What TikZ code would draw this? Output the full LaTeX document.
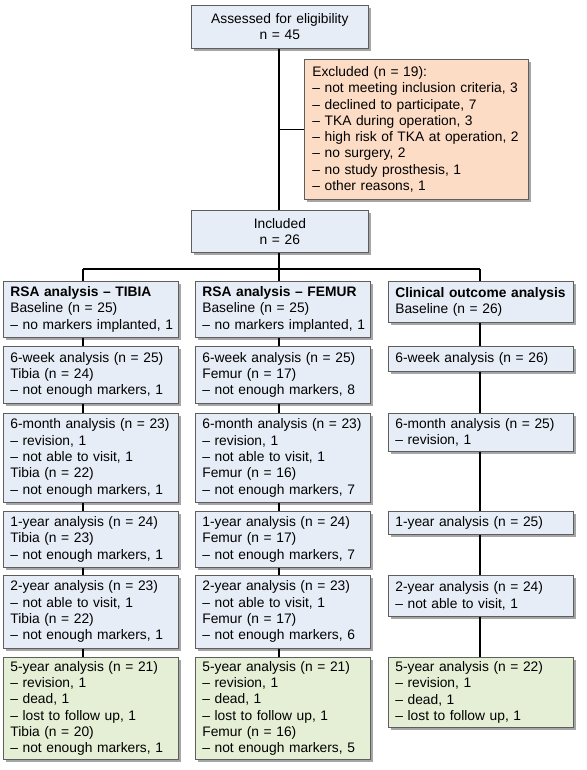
\documentclass[tikz,border=0pt]{standalone}
\usepackage{fontspec}
\setmainfont{Liberation Sans}
\usetikzlibrary{shadows}
\definecolor{bluefill}{HTML}{E7EDF6}
\definecolor{orangefill}{HTML}{FCDCC5}
\definecolor{greenfill}{HTML}{E4EFD5}
\definecolor{boxline}{HTML}{5E5E5E}
\tikzset{
  box/.style={draw=boxline, line width=0.7pt, anchor=north west, align=left,
    inner xsep=7pt, inner ysep=0pt, font=\fontsize{13.8}{16.3}\selectfont,
    drop shadow={shadow xshift=2.5pt, shadow yshift=-2.5pt, opacity=0.35, fill=black}},
  bluebox/.style={box, fill=bluefill},
  greenbox/.style={box, fill=greenfill},
  orangebox/.style={box, fill=orangefill},
  conn/.style={line width=1.6pt, black},
}
\begin{document}
\begin{tikzpicture}[x=1pt, y=-1pt]
\useasboundingbox (0,0) rectangle (586,770);
% top
\node[bluebox, align=center, text width=163pt, minimum height=43pt] (assess) at (191,5) {Assessed for eligibility\\n = 45};
\node[orangebox, inner xsep=8pt, text width=208pt, minimum height=140pt] (excl) at (304,59) {Excluded (n = 19):\\\mbox{– not meeting inclusion criteria, 3}\\– declined to participate,~7\\– TKA during operation,~3\\\mbox{– high risk of TKA at operation, 2}\\– no surgery,~2\\– no study prosthesis,~1\\– other reasons,~1};
\node[bluebox, align=center, text width=163pt, minimum height=42pt] (incl) at (191,210) {Included\\n = 26};
% column 1 (tibia)
\node[bluebox, text width=161pt, minimum height=56pt] (a1) at (3,281) {\mbox{\textbf{RSA analysis – TIBIA}}\\Baseline (n = 25)\\\mbox{– no markers implanted, 1}};
\node[bluebox, text width=161pt, minimum height=57pt] (a2) at (3,346) {6-week analysis (n = 25)\\Tibia (n = 24)\\– not enough markers,~1};
\node[bluebox, text width=161pt, minimum height=89pt] (a3) at (3,413) {\mbox{6-month analysis (n = 23)}\\– revision,~1\\– not able to visit,~1\\Tibia (n = 22)\\– not enough markers,~1};
\node[bluebox, text width=161pt, minimum height=56pt] (a4) at (3,511) {1-year analysis (n = 24)\\Tibia (n = 23)\\– not enough markers,~1};
\node[bluebox, text width=161pt, minimum height=73pt] (a5) at (3,575) {2-year analysis (n = 23)\\– not able to visit,~1\\Tibia (n = 22)\\– not enough markers,~1};
\node[greenbox, text width=161pt, minimum height=102pt] (a6) at (3,657) {5-year analysis (n = 21)\\– revision,~1\\– dead,~1\\– lost to follow up,~1\\Tibia (n = 20)\\– not enough markers,~1};
% column 2 (femur)
\node[bluebox, text width=161pt, minimum height=56pt] (b1) at (195,281) {\mbox{\textbf{RSA analysis – FEMUR}}\\Baseline (n = 25)\\\mbox{– no markers implanted, 1}};
\node[bluebox, text width=161pt, minimum height=57pt] (b2) at (195,346) {6-week analysis (n = 25)\\Femur (n = 17)\\– not enough markers,~8};
\node[bluebox, text width=161pt, minimum height=89pt] (b3) at (195,413) {\mbox{6-month analysis (n = 23)}\\– revision,~1\\– not able to visit,~1\\Femur (n = 16)\\– not enough markers,~7};
\node[bluebox, text width=161pt, minimum height=56pt] (b4) at (195,511) {1-year analysis (n = 24)\\Femur (n = 17)\\– not enough markers,~7};
\node[bluebox, text width=161pt, minimum height=73pt] (b5) at (195,575) {2-year analysis (n = 23)\\– not able to visit,~1\\Femur (n = 17)\\– not enough markers,~6};
\node[greenbox, text width=161pt, minimum height=102pt] (b6) at (195,657) {5-year analysis (n = 21)\\– revision,~1\\– dead,~1\\– lost to follow up,~1\\Femur (n = 16)\\– not enough markers,~5};
% column 3 (clinical)
\node[bluebox, text width=171pt, minimum height=41pt] (c1) at (388,281) {\mbox{\textbf{Clinical outcome analysis}}\\Baseline (n = 26)};
\node[bluebox, text width=171pt, minimum height=25pt] (c2) at (388,346) {6-week analysis (n = 26)};
\node[bluebox, text width=171pt, minimum height=38pt] (c3) at (388,413) {6-month analysis (n = 25)\\– revision,~1};
\node[bluebox, text width=171pt, minimum height=23pt] (c4) at (388,511) {1-year analysis (n = 25)};
\node[bluebox, text width=171pt, minimum height=41pt] (c5) at (388,575) {2-year analysis (n = 24)\\– not able to visit,~1};
\node[greenbox, text width=171pt, minimum height=70pt] (c6) at (388,657) {5-year analysis (n = 22)\\– revision,~1\\– dead,~1\\– lost to follow up,~1};
% connectors
\coordinate (bl) at (83,269);
\coordinate (bm) at (279,269);
\coordinate (br) at (480,269);
\draw[conn] (assess.south -| bm) -- (incl.north -| bm);
\draw[conn] (excl.west -| bm) -- (excl.west);
\draw[conn] (incl.south -| bm) -- (bm);
\draw[conn] (bl) -- (br);
\draw[conn] (bl) -- (a1.north -| bl);
\draw[conn] (bm) -- (b1.north -| bm);
\draw[conn] (br) -- (c1.north -| br);
\foreach \u/\v in {a1/a2,a2/a3,a3/a4,a4/a5,a5/a6}{\draw[conn] (\u.south -| bl) -- (\v.north -| bl);}
\foreach \u/\v in {b1/b2,b2/b3,b3/b4,b4/b5,b5/b6}{\draw[conn] (\u.south -| bm) -- (\v.north -| bm);}
\foreach \u/\v in {c1/c2,c2/c3,c3/c4,c4/c5,c5/c6}{\draw[conn] (\u.south -| br) -- (\v.north -| br);}
\end{tikzpicture}
\end{document}
